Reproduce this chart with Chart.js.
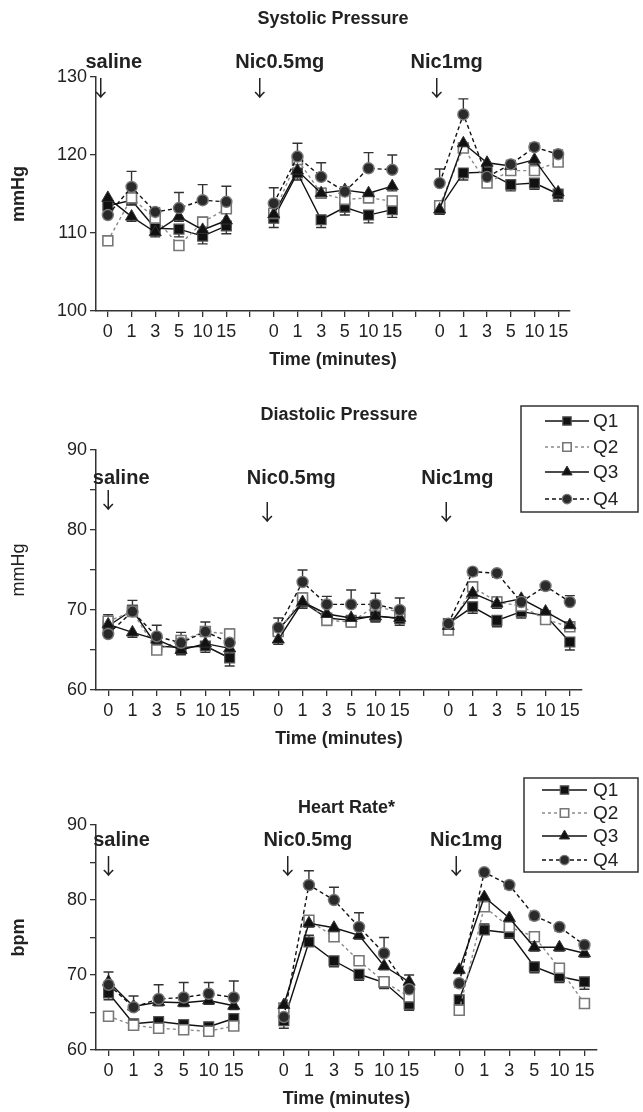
<!DOCTYPE html>
<html><head><meta charset="utf-8">
<script src="https://cdn.jsdelivr.net/npm/chart.js@4/dist/chart.umd.min.js"></script>
<style>
html,body{margin:0;padding:0;background:#fff;}
#wrap{position:relative;width:643px;height:1112px;overflow:hidden;}
canvas{position:absolute;left:0;}
</style></head><body>
<div id="wrap">
<canvas id="c1" width="643" height="375" style="top:0px"></canvas>
<canvas id="c2" width="643" height="385" style="top:375px"></canvas>
<canvas id="c3" width="643" height="352" style="top:760px"></canvas>
</div>
<script>
// ---------- data ----------
const timeLabels = ['0','1','3','5','10','15','','0','1','3','5','10','15','','0','1','3','5','10','15'];
const seriesNames = ['Q1','Q2','Q3','Q4'];
const groupNames = ['saline','Nic0.5mg','Nic1mg'];

// Systolic pressure (mmHg)
const sysQ1 = [113.5,114.2,110.6,110.5,109.6,110.9,null,111.9,117.7,111.7,113.3,112.3,113.0,null,113.2,117.7,117.8,116.2,116.4,115.0];
const sysQ2 = [109.0,114.5,111.9,108.4,111.4,113.1,null,112.5,119.4,115.1,114.3,114.5,114.1,null,113.5,120.9,116.4,118.0,118.0,119.1];
const sysQ3 = [114.5,112.1,110.1,112.1,110.4,111.6,null,112.4,118.0,115.1,115.5,115.1,116.0,null,113.0,121.5,119.0,118.6,119.4,115.2];
const sysQ4 = [112.3,115.9,112.7,113.2,114.2,114.0,null,113.8,119.8,117.2,115.3,118.3,118.1,null,116.4,125.2,117.2,118.8,121.0,120.1];
const sysErrQ1 = [-0.8,-0.6,-0.8,-1.0,-1.0,-1.0,null,-1.2,-0.9,-1.0,-1.0,-1.0,-1.0,null,-0.8,-0.9,-0.7,-0.8,-0.8,-0.9];
const sysErrQ2 = [0.6,0.6,0.6,0.6,0.6,0.6,null,0.6,0.6,0.6,0.6,0.6,0.6,null,0.6,0.6,0.6,0.6,0.6,0.6];
const sysErrQ3 = [-0.6,-0.6,-0.6,-0.6,-0.6,-0.6,null,-0.6,-0.6,-0.6,-0.6,-0.6,-0.6,null,-0.6,-0.6,-0.6,-0.6,-0.6,-0.6];
const sysErrQ4 = [1.3,2.0,0.5,2.0,2.0,2.0,null,2.0,1.7,1.8,0.6,2.0,1.9,null,1.8,2.0,0.6,0.5,0.5,0.5];

// Diastolic pressure (mmHg)
const diaQ1 = [68.0,70.0,65.5,65.3,65.5,64.0,null,67.5,71.0,69.0,68.7,69.3,68.9,null,68.3,70.4,68.7,69.8,69.3,66.0];
const diaQ2 = [68.6,69.8,65.0,66.2,67.3,67.0,null,67.3,71.5,68.7,68.5,70.5,69.7,null,67.5,72.9,71.0,70.5,68.8,67.9];
const diaQ3 = [68.2,67.2,66.3,65.0,65.8,65.2,null,66.3,71.0,69.5,69.0,69.2,69.0,null,68.0,72.1,70.8,71.4,69.8,68.1];
const diaQ4 = [67.0,69.8,66.7,65.9,67.3,65.9,null,67.8,73.5,70.7,70.7,70.7,70.0,null,68.3,74.8,74.6,71.0,73.0,71.0];
const diaErrQ1 = [-0.8,-0.8,-0.8,-0.8,-0.8,-1.0,null,-0.8,-0.8,-0.8,-0.8,-0.8,-0.8,null,-0.6,-0.8,-0.8,-0.8,-0.8,-1.0];
const diaErrQ2 = [0.8,0.6,0.6,0.6,0.6,0.6,null,0.6,0.6,0.6,0.6,0.6,0.6,null,0.6,0.6,0.6,0.6,0.6,0.6];
const diaErrQ3 = [-0.6,-0.6,-0.6,-0.6,-0.6,-0.6,null,-0.6,-0.6,-0.6,-0.6,-0.6,-0.6,null,-0.6,-0.6,-0.6,-0.6,-0.6,-0.6];
const diaErrQ4 = [1.0,1.4,1.4,1.3,1.2,1.2,null,1.2,1.5,1.0,1.8,1.4,1.5,null,0.5,-0.5,-0.5,0.6,-0.5,0.8];

// Heart rate (bpm)
const hrQ1 = [67.6,63.5,63.8,63.4,63.1,64.2,null,63.9,74.4,71.9,70.1,69.0,66.1,null,66.7,76.0,75.6,71.1,69.8,69.1];
const hrQ2 = [64.5,63.3,62.9,62.7,62.5,63.2,null,65.6,77.3,75.1,71.9,69.1,67.1,null,65.3,79.1,76.4,75.1,70.9,66.2];
const hrQ3 = [69.1,65.8,66.4,66.3,66.6,65.9,null,66.0,76.9,76.3,75.3,71.2,69.1,null,70.7,80.4,77.6,73.7,73.7,72.9];
const hrQ4 = [68.7,65.7,66.8,67.0,67.5,67.0,null,64.4,82.0,80.0,76.4,72.9,68.1,null,68.9,83.7,82.0,77.9,76.4,74.0];
const hrErrQ1 = [-0.9,-0.7,-0.7,-0.7,-0.8,-1.0,null,-1.0,0.9,-0.8,-0.8,-0.8,-0.8,null,-0.8,0.8,-0.7,-0.8,-0.8,-1.0];
const hrErrQ2 = [0.5,0.5,0.5,0.5,0.5,0.5,null,0.5,0.5,0.5,0.5,0.5,0.5,null,0.5,0.5,0.5,0.5,0.5,0.5];
const hrErrQ3 = [-0.5,-0.5,-0.5,-0.5,-0.5,-0.5,null,-0.5,-0.5,-0.5,-0.5,-0.5,0.9,null,-0.5,-0.5,-0.5,-0.5,-0.5,-0.5];
const hrErrQ4 = [1.7,1.5,1.9,2.0,1.5,2.2,null,-1.0,1.9,1.7,1.9,2.1,-0.8,null,-0.5,-0.5,-0.5,-0.5,-0.5,-0.5];

// ---------- styling ----------
const FONT = "'Liberation Sans', Arial, Helvetica, sans-serif";
const INK = '#222';
const seriesStyle = [
  {line:'#111', dash:[], point:'rect', r:7, fill:'#111', edge:'#555', ew:1.2, order:3},
  {line:'#8a8a8a', dash:[3,3], point:'rect', r:7, fill:'#fff', edge:'#777', ew:1.6, order:2},
  {line:'#111', dash:[], point:'triangle', r:7, fill:'#111', edge:'#333', ew:1, order:1},
  {line:'#111', dash:[4,3], point:'circle', r:5.5, fill:'#2a2a2a', edge:'#777', ew:1.4, order:0}
];

function drawMarker(ctx, kind, x, y, r, fill, edge, ew){
  ctx.save();
  ctx.setLineDash([]);
  ctx.fillStyle = fill; ctx.strokeStyle = edge; ctx.lineWidth = ew;
  ctx.beginPath();
  if (kind === 'rect'){ const s = Math.SQRT1_2*r; ctx.rect(x-s,y-s,2*s,2*s); }
  else if (kind === 'triangle'){
    let a = 0;
    ctx.moveTo(x + Math.sin(a)*r, y - Math.cos(a)*r);
    a += 2*Math.PI/3; ctx.lineTo(x + Math.sin(a)*r, y - Math.cos(a)*r);
    a += 2*Math.PI/3; ctx.lineTo(x + Math.sin(a)*r, y - Math.cos(a)*r);
    ctx.closePath();
  } else { ctx.arc(x,y,r,0,Math.PI*2); }
  ctx.fill(); ctx.stroke();
  ctx.restore();
}

const errorBarPlugin = {
  id:'errorBars',
  beforeDatasetsDraw(chart){
    const ctx = chart.ctx, xs = chart.scales.x, ys = chart.scales.y;
    ctx.save();
    ctx.strokeStyle = '#333'; ctx.lineWidth = 1.4; ctx.setLineDash([]);
    chart.data.datasets.forEach(ds => {
      if (!ds.errors) return;
      ds.data.forEach((v,j) => {
        const e = ds.errors[j];
        if (v === null || e === null || e === undefined) return;
        const x = xs.getPixelForValue(j);
        const y0 = ys.getPixelForValue(v), y1 = ys.getPixelForValue(v+e);
        ctx.beginPath();
        ctx.moveTo(x,y0); ctx.lineTo(x,y1);
        ctx.moveTo(x-5,y1); ctx.lineTo(x+5,y1);
        ctx.stroke();
      });
    });
    ctx.restore();
  }
};

const panelTextPlugin = {
  id:'panelText',
  afterDraw(chart, args, o){
    if (!o || !o.title) return;
    const ctx = chart.ctx, xs = chart.scales.x, ca = chart.chartArea;
    ctx.save();
    ctx.fillStyle = INK; ctx.textBaseline = 'middle'; ctx.textAlign = 'center';
    ctx.font = 'bold 18px ' + FONT;
    ctx.fillText(o.title, (ca.left+ca.right)/2, o.titleY);
    ctx.font = 'bold 20px ' + FONT;
    o.groups.forEach((g,i) => {
      ctx.fillText(groupNames[i], xs.getPixelForValue(g.idx) + g.dx, o.labelY);
    });
    ctx.font = "22px 'Noto Sans CJK SC', 'DejaVu Sans', sans-serif";
    o.arrows.forEach(a => {
      ctx.fillText('\u2193', xs.getPixelForValue(a.idx) + a.dx, a.y);
    });
    ctx.restore();
  }
};

const boxLegendPlugin = {
  id:'boxLegend',
  afterDraw(chart, args, o){
    if (!o || !o.show) return;
    const ctx = chart.ctx;
    ctx.save();
    ctx.strokeStyle = '#333'; ctx.lineWidth = 1.5; ctx.setLineDash([]);
    ctx.strokeRect(o.x0, o.y0, o.x1-o.x0, o.y1-o.y0);
    o.rows.forEach((ry,i) => {
      const st = seriesStyle[i];
      ctx.save();
      ctx.strokeStyle = st.line; ctx.lineWidth = 1.4; ctx.setLineDash(st.dash);
      ctx.beginPath(); ctx.moveTo(o.lx0, ry); ctx.lineTo(o.lx1, ry); ctx.stroke();
      ctx.restore();
      drawMarker(ctx, st.point, (o.lx0+o.lx1)/2, ry, st.r*0.85, st.fill, st.edge, st.ew);
      ctx.fillStyle = INK; ctx.font = '19px ' + FONT; ctx.textBaseline = 'middle'; ctx.textAlign = 'left';
      ctx.fillText(seriesNames[i], o.tx, ry+1);
    });
    ctx.restore();
  }
};

function makeDatasets(vals, errs){
  return vals.map((v,i) => {
    const st = seriesStyle[i];
    return {
      label: seriesNames[i], data: v, errors: errs[i],
      borderColor: st.line, borderWidth: 1.4, borderDash: st.dash,
      pointStyle: st.point, pointRadius: st.r, pointHoverRadius: st.r,
      pointBackgroundColor: st.fill, pointBorderColor: st.edge, pointBorderWidth: st.ew,
      fill:false, tension:0, spanGaps:false, order: st.order
    };
  });
}

function makeChart(id, p){
  return new Chart(document.getElementById(id), {
    type:'line',
    data:{ labels: timeLabels, datasets: makeDatasets(p.vals, p.errs) },
    plugins:[errorBarPlugin, panelTextPlugin, boxLegendPlugin],
    options:{
      responsive:false, animation:false, events:[],
      layout:{ padding: p.pad },
      plugins:{
        legend:{display:false}, tooltip:{enabled:false}, title:{display:false},
        panelText: p.text, boxLegend: p.legend
      },
      scales:{
        x:{
          type:'category', offset:true,
          grid:{display:true, drawOnChartArea:false, drawTicks:true, tickLength:6, offset:false, color:'#333', lineWidth:1.3},
          border:{display:true, color:'#333', width:1.5},
          ticks:{autoSkip:false, maxRotation:0, minRotation:0, padding:4, color:INK, font:{family:FONT, size:18}},
          title:{display:true, text:'Time (minutes)', color:INK, font:{family:FONT, size:18, weight:'bold'}, padding:{top:3, bottom:0}}
        },
        y:{
          min:p.ymin, max:p.ymax,
          afterFit(s){ s.width = 96; },
          grid:{drawOnChartArea:false, drawTicks:true, tickLength:6, color:'#333', lineWidth:1.3},
          border:{display:true, color:'#333', width:1.5},
          ticks:{stepSize:p.step, padding:3, color:INK, font:{family:FONT, size:18},
                 callback:(v) => (v % 10 === 0 ? String(v) : '')},
          title:{display:true, text:p.ytitle, color:INK, font:{family:FONT, size:18, weight:p.ybold ? 'bold' : 'normal'}, padding:{top:8, bottom:0}}
        }
      }
    }
  });
}

makeChart('c1', {
  vals:[sysQ1, sysQ2, sysQ3, sysQ4], errs:[sysErrQ1, sysErrQ2, sysErrQ3, sysErrQ4],
  ymin:100, ymax:130, step:10, ytitle:'mmHg', ybold:true,
  pad:{left:0, top:77, right:73, bottom:3.8},
  text:{title:'Systolic Pressure', titleY:19,
        labelY:62, groups:[{idx:0,dx:6},{idx:7,dx:6},{idx:14,dx:7}],
        arrows:[{idx:0,dx:-7,y:88},{idx:7,dx:-14,y:88},{idx:14,dx:-3,y:88}]},
  legend:{show:false}
});

makeChart('c2', {
  vals:[diaQ1, diaQ2, diaQ3, diaQ4], errs:[diaErrQ1, diaErrQ2, diaErrQ3, diaErrQ4],
  ymin:60, ymax:90, step:5, ytitle:'mmHg', ybold:false,
  pad:{left:0, top:75, right:61, bottom:9.8},
  text:{title:'Diastolic Pressure', titleY:40,
        labelY:103, groups:[{idx:0,dx:13},{idx:7,dx:13},{idx:14,dx:9}],
        arrows:[{idx:0,dx:0,y:125},{idx:7,dx:-11,y:137},{idx:14,dx:-2,y:137}]},
  legend:{show:true, x0:521, y0:31, x1:638, y1:137, rows:[46,72,97,124], lx0:545, lx1:589, tx:593}
});

makeChart('c3', {
  vals:[hrQ1, hrQ2, hrQ3, hrQ4], errs:[hrErrQ1, hrErrQ2, hrErrQ3, hrErrQ4],
  ymin:60, ymax:90, step:5, ytitle:'bpm', ybold:true,
  pad:{left:0, top:65, right:46, bottom:1.8},
  text:{title:'Heart Rate*', titleY:48,
        labelY:80, groups:[{idx:0,dx:13},{idx:7,dx:24},{idx:14,dx:7}],
        arrows:[{idx:0,dx:0,y:106},{idx:7,dx:4,y:106},{idx:14,dx:-3,y:106}]},
  legend:{show:true, x0:524, y0:18, x1:638, y1:112, rows:[30,53,76,100], lx0:542, lx1:587, tx:593}
});
</script>
</body></html>
